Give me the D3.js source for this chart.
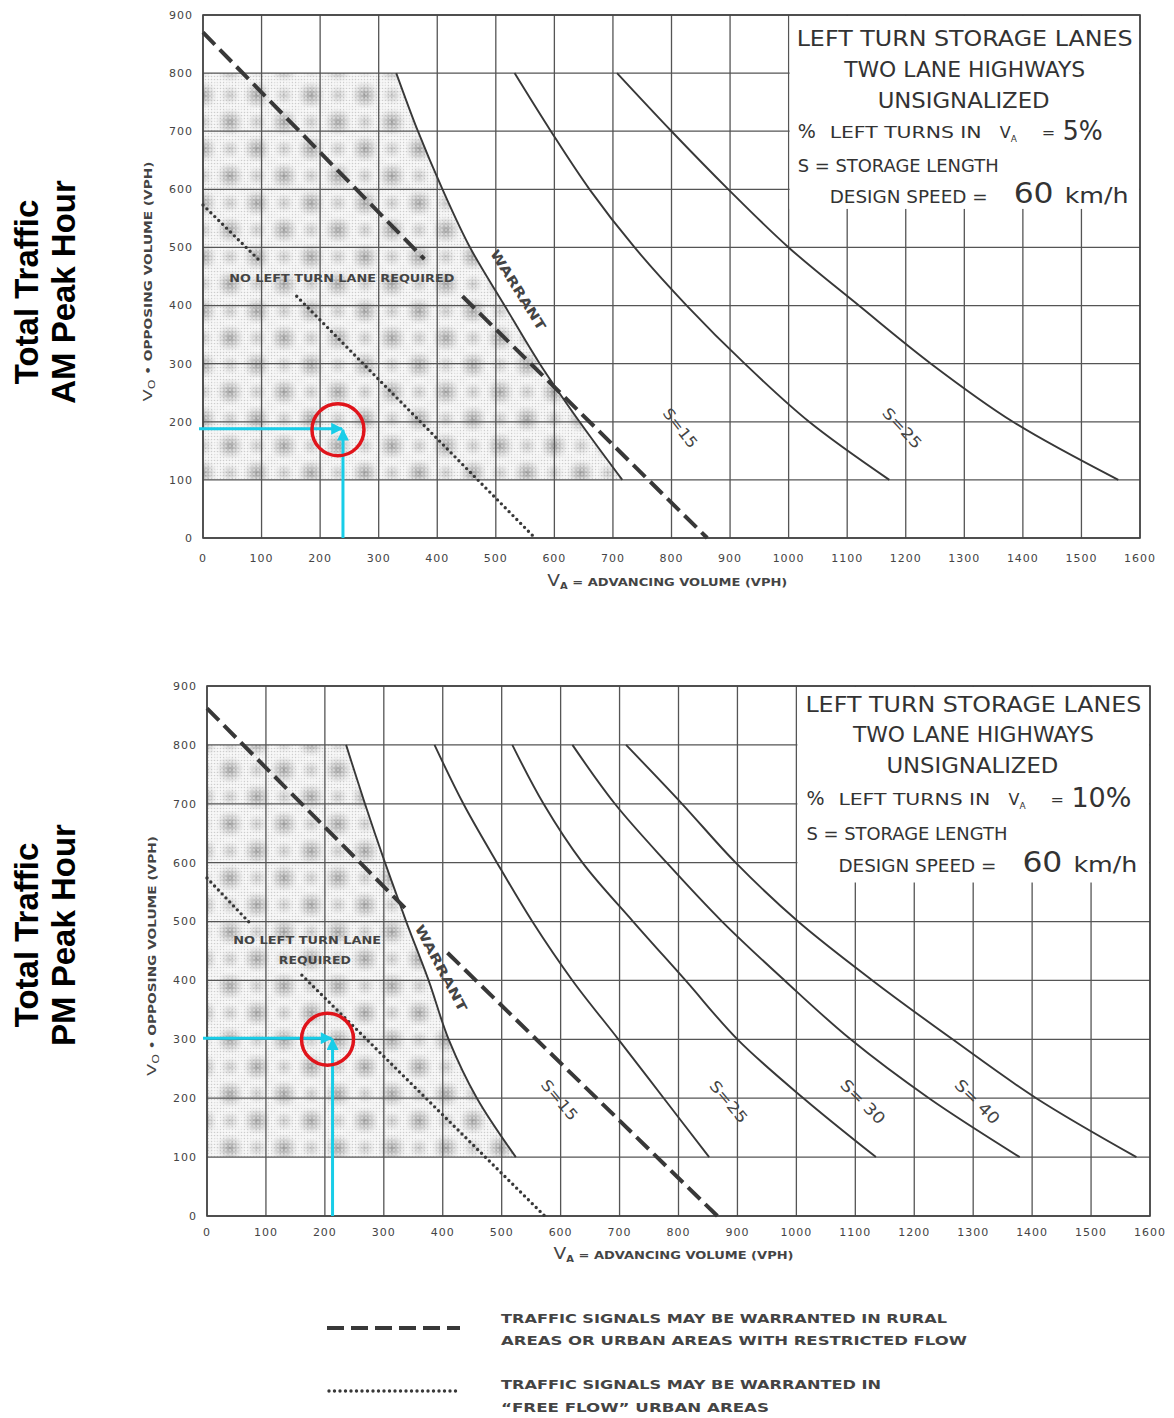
<!DOCTYPE html>
<html>
<head>
<meta charset="utf-8">
<title>Left Turn Storage Lanes - AM / PM</title>
<script src="https://d3js.org/d3.v7.min.js"></script>
<style>
  body { margin: 0; background: #fff; }
  svg { display: block; font-family: "DejaVu Sans", sans-serif; }
  .grid line { stroke: #555; stroke-width: 1.3; }
  .frame { fill: none; stroke: #444; stroke-width: 1.6; }
  .tick-label { font-size: 11px; fill: #444; letter-spacing: 1px; }
  .curve { fill: none; stroke: #383838; stroke-width: 1.9; }
  .rural { fill: none; stroke: #383838; stroke-width: 4; stroke-dasharray: 17 7; }
  .free { fill: none; stroke: #383838; stroke-width: 3.4; stroke-dasharray: 0 5.5; stroke-linecap: round; }
  .box-text { fill: #333; }
  .side-title { font-family: "Liberation Sans", Arial, sans-serif; font-weight: bold; font-size: 33px; fill: #000; }
  .note { font-weight: bold; fill: #444; }
</style>
</head>
<body>
<svg width="1174" height="1418"></svg>
<script>
// axis values
const vaTicks = [0, 100, 200, 300, 400, 500, 600, 700, 800, 900, 1000, 1100, 1200, 1300, 1400, 1500, 1600];
const voTicks = [0, 100, 200, 300, 400, 500, 600, 700, 800, 900];

// AM peak hour, 5% left turns  -- [Va, Vo]
const amWarrant = [[330, 800], [367, 700], [409, 600], [456, 500], [515, 400], [575, 300], [643, 200], [716, 100]];
const amS15 = [[532, 800], [594, 700], [660, 600], [737, 500], [826, 400], [925, 300], [1035, 200], [1172, 100]];
const amS25 = [[707, 800], [800, 700], [897, 600], [1000, 500], [1120, 400], [1243, 300], [1383, 200], [1563, 100]];
const amRural = [[[0, 870], [378, 480]], [[443, 416], [861, 0]]];
const amFreeFlow = [[[0, 573], [98, 476]], [[160, 416], [567, 0]]];
const amCheck = [239, 188];

// PM peak hour, 10% left turns
const pmWarrant = [[236, 800], [268, 700], [302, 600], [338, 500], [376, 400], [410, 300], [458, 200], [524, 100]];
const pmS15 = [[386, 800], [435, 700], [492, 600], [552, 500], [620, 400], [698, 300], [775, 200], [852, 100]];
const pmS25 = [[518, 800], [571, 700], [637, 600], [723, 500], [812, 400], [900, 300], [1012, 200], [1135, 100]];
const pmS30 = [[620, 800], [692, 700], [780, 600], [874, 500], [980, 400], [1092, 300], [1225, 200], [1379, 100]];
const pmS40 = [[711, 800], [806, 700], [897, 600], [1003, 500], [1129, 400], [1265, 300], [1407, 200], [1577, 100]];
const pmRural = [[[0, 862], [344, 515]], [[408, 447], [866, 0]]];
const pmFreeFlow = [[[0, 574], [76, 494]], [[161, 409], [573, 0]]];
const pmCheck = [213, 302];

const panels = [
  {
    xRange: [203, 1140], yRange: [538, 15],
    curves: [amWarrant, amS15, amS25], warrant: amWarrant,
    rural: amRural, free: amFreeFlow, check: amCheck, pct: "5%",
    side: ["Total Traffic", "AM Peak Hour"], sideY: 292,
    tickDy: 24, titleDy: 48, yTitleX: 152,
    boxLines: [31, 62, 93, 123, 157, 188], boxDx: 0,
    labels: [
      { t: "WARRANT", at: [538, 427], rot: 58, len: 92, size: 13 },
      { t: "S=15", at: [815, 189], rot: 52, len: 46, size: 15 },
      { t: "S=25", at: [1194, 189], rot: 47, len: 50, size: 15 }
    ],
    noLane: [{ t: "NO LEFT TURN LANE REQUIRED", at: [237, 447], len: 225 }]
  },
  {
    xRange: [207, 1150], yRange: [1216, 686],
    curves: [pmWarrant, pmS15, pmS25, pmS30, pmS40], warrant: pmWarrant,
    rural: pmRural, free: pmFreeFlow, check: pmCheck, pct: "10%",
    side: ["Total Traffic", "PM Peak Hour"], sideY: 935,
    tickDy: 20, titleDy: 43, yTitleX: 156,
    boxLines: [26, 56, 87, 119, 154, 186], boxDx: 1,
    labels: [
      { t: "WARRANT", at: [397, 421], rot: 62, len: 96, size: 13 },
      { t: "S=15", at: [598, 197], rot: 50, len: 48, size: 15 },
      { t: "S=25", at: [885, 194], rot: 50, len: 50, size: 15 },
      { t: "S= 30", at: [1113, 194], rot: 45, len: 56, size: 16 },
      { t: "S= 40", at: [1307, 194], rot: 45, len: 56, size: 16 }
    ],
    noLane: [
      { t: "NO LEFT TURN LANE", at: [170, 469], len: 148 },
      { t: "REQUIRED", at: [183, 435], len: 72 }
    ]
  }
];

const svg = d3.select("svg");
const defs = svg.append("defs");

// stipple shading of the "no left turn lane" zone
const grad = defs.append("radialGradient").attr("id", "blob");
grad.append("stop").attr("offset", "0%").attr("stop-color", "#7a7a7a").attr("stop-opacity", 0.7);
grad.append("stop").attr("offset", "50%").attr("stop-color", "#999").attr("stop-opacity", 0.4);
grad.append("stop").attr("offset", "100%").attr("stop-color", "#ccc").attr("stop-opacity", 0);

const fine = defs.append("pattern").attr("id", "fine")
  .attr("width", 3).attr("height", 3).attr("patternUnits", "userSpaceOnUse");
fine.append("rect").attr("width", 3).attr("height", 3).attr("fill", "#f6f6f6");
fine.append("circle").attr("cx", 1.5).attr("cy", 1.5).attr("r", 0.75).attr("fill", "#cdcdcd");

const blobs = defs.append("pattern").attr("id", "blobs")
  .attr("width", 54).attr("height", 54).attr("patternUnits", "userSpaceOnUse");
blobs.selectAll("circle").data([[14, 14], [41, 41], [41, 14], [14, 41]]).join("circle")
  .attr("cx", d => d[0]).attr("cy", d => d[1])
  .attr("r", (d, i) => i < 2 ? 15 : 11)
  .attr("opacity", (d, i) => i < 2 ? 1 : 0.55)
  .attr("fill", "url(#blob)");

const halftone = defs.append("pattern").attr("id", "halftone")
  .attr("width", 4).attr("height", 4).attr("patternUnits", "userSpaceOnUse");
halftone.append("circle").attr("cx", 2).attr("cy", 2).attr("r", 1.1).attr("fill", "#fff").attr("opacity", 0.45);

defs.append("marker").attr("id", "arrow")
  .attr("viewBox", "0 0 10 10").attr("refX", 9).attr("refY", 5)
  .attr("markerWidth", 14).attr("markerHeight", 12)
  .attr("markerUnits", "userSpaceOnUse").attr("orient", "auto")
  .append("path").attr("d", "M0,0 L10,5 L0,10 z").attr("fill", "#18cde8");

function drawPanel(p) {
  const x = d3.scaleLinear().domain([0, 1600]).range(p.xRange);
  const y = d3.scaleLinear().domain([0, 900]).range(p.yRange);
  const g = svg.append("g");

  // shaded zone bounded by the warrant curve
  const warrantArea = d3.area()
    .y(d => y(d[1])).x0(x(0)).x1(d => x(d[0]))
    .curve(d3.curveCatmullRom);
  ["url(#fine)", "url(#blobs)", "url(#halftone)"].forEach(f =>
    g.append("path").attr("d", warrantArea(p.warrant)).attr("fill", f));

  // grid
  const grid = g.append("g").attr("class", "grid");
  grid.selectAll(".v").data(vaTicks).join("line")
    .attr("x1", d => x(d)).attr("x2", d => x(d))
    .attr("y1", y(0)).attr("y2", y(900));
  grid.selectAll(".h").data(voTicks).join("line")
    .attr("y1", d => y(d)).attr("y2", d => y(d))
    .attr("x1", x(0)).attr("x2", x(1600));

  // title box (hides the grid behind it)
  g.append("rect")
    .attr("x", x(1000) + 1).attr("y", y(900) + 1)
    .attr("width", x(1600) - x(1000) - 2).attr("height", y(568) - y(900))
    .attr("fill", "#fff");

  g.append("rect").attr("class", "frame")
    .attr("x", x(0)).attr("y", y(900))
    .attr("width", x(1600) - x(0)).attr("height", y(0) - y(900));

  // tick labels
  g.selectAll(".yl").data(voTicks).join("text")
    .attr("class", "tick-label")
    .attr("x", x(0) - 10).attr("y", d => y(d)).attr("dy", "0.35em")
    .attr("text-anchor", "end").text(d => d);
  g.selectAll(".xl").data(vaTicks).join("text")
    .attr("class", "tick-label")
    .attr("x", d => x(d)).attr("y", y(0) + p.tickDy)
    .attr("text-anchor", "middle").text(d => d);

  // axis titles
  const yt = g.append("text")
    .attr("transform", `translate(${p.yTitleX},${(y(0) + y(900)) / 2 + 5}) rotate(-90)`)
    .attr("text-anchor", "middle").attr("class", "note")
    .style("font-size", "10px")
    .attr("textLength", 240).attr("lengthAdjust", "spacingAndGlyphs");
  yt.append("tspan").style("font-size", "13px").style("font-weight", "normal").text("V");
  yt.append("tspan").attr("dy", 3).style("font-size", "9px").style("font-weight", "normal").text("O");
  yt.append("tspan").attr("dy", -3).text(" • OPPOSING  VOLUME  (VPH)");

  const xt = g.append("text")
    .attr("x", x(0) + (p.xRange[1] - p.xRange[0]) * 0.3675).attr("y", y(0) + p.titleDy)
    .attr("class", "note").style("font-size", "10.5px")
    .attr("textLength", 240).attr("lengthAdjust", "spacingAndGlyphs");
  xt.append("tspan").style("font-size", "15px").style("font-weight", "normal").text("V");
  xt.append("tspan").attr("dy", 3).style("font-size", "8px").text("A");
  xt.append("tspan").attr("dy", -3).text(" = ADVANCING  VOLUME  (VPH)");

  // curves
  const line = d3.line().x(d => x(d[0])).y(d => y(d[1])).curve(d3.curveCatmullRom);
  g.selectAll(".curve").data(p.curves).join("path")
    .attr("class", "curve").attr("d", line);
  const straight = d3.line().x(d => x(d[0])).y(d => y(d[1]));
  g.selectAll(".rural").data(p.rural).join("path")
    .attr("class", "rural").attr("d", straight);
  g.selectAll(".free").data(p.free).join("path")
    .attr("class", "free").attr("d", straight);

  // curve labels
  g.selectAll(".clabel").data(p.labels).join("text")
    .attr("class", "note")
    .attr("transform", d => `translate(${x(d.at[0])},${y(d.at[1])}) rotate(${d.rot})`)
    .attr("text-anchor", "middle").attr("dy", "0.35em")
    .style("font-size", d => d.size + "px")
    .style("font-weight", d => d.t === "WARRANT" ? "bold" : "normal")
    .attr("textLength", d => d.len).attr("lengthAdjust", "spacingAndGlyphs")
    .text(d => d.t);
  g.selectAll(".nl").data(p.noLane).join("text")
    .attr("class", "note")
    .attr("x", d => x(d.at[0])).attr("y", d => y(d.at[1])).attr("dy", "0.35em")
    .attr("text-anchor", "middle").style("font-size", "11px")
    .attr("textLength", d => d.len).attr("lengthAdjust", "spacingAndGlyphs")
    .text(d => d.t);

  // box text
  const bx = x(1000) + p.boxDx, by = y(900), L = p.boxLines;
  const bt = (tx, ty, s, size, len, anchor) => {
    const t = g.append("text").attr("class", "box-text")
      .attr("x", tx).attr("y", ty).style("font-size", size + "px")
      .attr("text-anchor", anchor || "start").text(s);
    if (len) t.attr("textLength", len).attr("lengthAdjust", "spacingAndGlyphs");
    return t;
  };
  bt(bx + 176, by + L[0], "LEFT TURN STORAGE LANES", 22, 336, "middle");
  bt(bx + 176, by + L[1], "TWO LANE HIGHWAYS", 22, 241, "middle");
  bt(bx + 175, by + L[2], "UNSIGNALIZED", 22, 172, "middle");
  bt(bx + 9, by + L[3], "%", 19);
  bt(bx + 41, by + L[3], "LEFT TURNS IN", 16, 152);
  bt(bx + 211, by + L[3], "V", 16);
  bt(bx + 222, by + L[3] + 4, "A", 9);
  bt(bx + 253, by + L[3], "=", 16);
  bt(bx + 274, by + L[3] + 2, p.pct, 27, p.pct.length * 20);
  bt(bx + 9, by + L[4], "S = STORAGE LENGTH", 18, 201);
  bt(bx + 41, by + L[5], "DESIGN SPEED =", 17, 158);
  bt(bx + 225, by + L[5], "60", 28, 40);
  bt(bx + 276, by + L[5], "km/h", 22, 64);

  // check point: arrows and red circle
  const px = x(p.check[0]), py = y(p.check[1]);
  g.append("line")
    .attr("x1", x(0) - 4).attr("y1", py).attr("x2", px - 1).attr("y2", py)
    .attr("stroke", "#18cde8").attr("stroke-width", 3).attr("marker-end", "url(#arrow)");
  g.append("line")
    .attr("x1", px).attr("y1", y(0)).attr("x2", px).attr("y2", py + 1)
    .attr("stroke", "#18cde8").attr("stroke-width", 3).attr("marker-end", "url(#arrow)");
  g.append("circle")
    .attr("cx", px - 5).attr("cy", py + 1).attr("r", 26)
    .attr("fill", "none").attr("stroke", "#e0141b").attr("stroke-width", 3.5);

  // side title
  g.append("text").attr("class", "side-title")
    .attr("transform", `translate(38,${p.sideY}) rotate(-90)`)
    .attr("text-anchor", "middle").text(p.side[0]);
  g.append("text").attr("class", "side-title")
    .attr("transform", `translate(75,${p.sideY}) rotate(-90)`)
    .attr("text-anchor", "middle").text(p.side[1]);
}

panels.forEach(drawPanel);

// legend
const legend = svg.append("g");
legend.append("line").attr("class", "rural")
  .attr("x1", 327).attr("x2", 460).attr("y1", 1328).attr("y2", 1328);
legend.append("line").attr("class", "free")
  .attr("x1", 329).attr("x2", 460).attr("y1", 1391).attr("y2", 1391);
const legendText = [
  ["TRAFFIC  SIGNALS  MAY BE  WARRANTED  IN  RURAL", 1323, 446],
  ["AREAS  OR  URBAN  AREAS  WITH  RESTRICTED  FLOW", 1345, 466],
  ["TRAFFIC  SIGNALS  MAY  BE  WARRANTED  IN", 1389, 380],
  ["\u201CFREE  FLOW\u201D  URBAN  AREAS", 1412, 268]
];
legend.selectAll(".lt").data(legendText).join("text")
  .attr("class", "note").attr("x", 501).attr("y", d => d[1])
  .style("font-size", "12px")
  .attr("textLength", d => d[2]).attr("lengthAdjust", "spacingAndGlyphs")
  .text(d => d[0]);
</script>
</body>
</html>
